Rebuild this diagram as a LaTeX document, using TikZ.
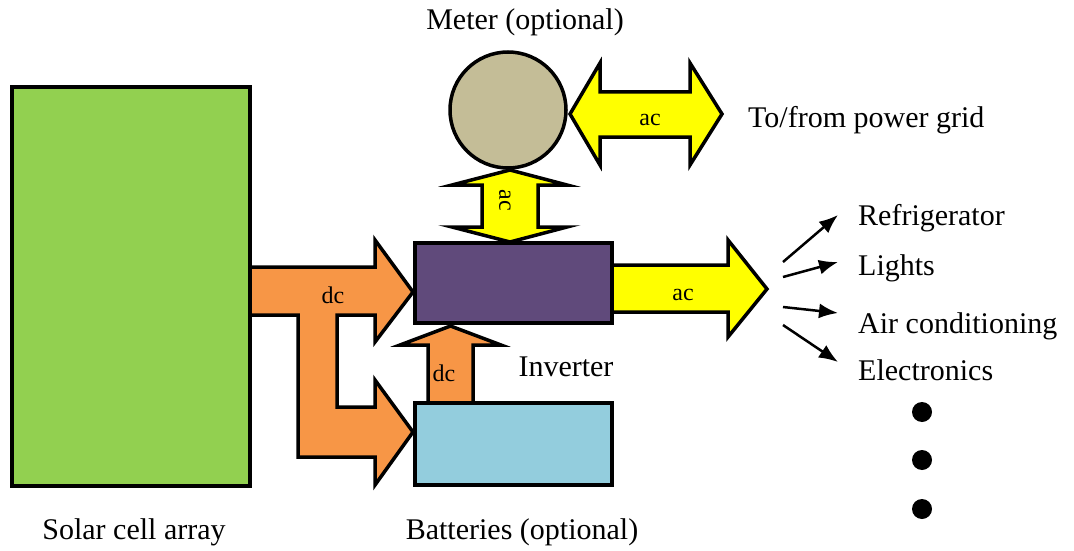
\documentclass[tikz,border=0pt]{standalone}
\usepackage{fontspec}
\setmainfont{Liberation Serif}
\usetikzlibrary{arrows.meta, calc, positioning, backgrounds}
\definecolor{cellgreen}{HTML}{92D050}
\definecolor{invpurple}{HTML}{604A7B}
\definecolor{batblue}{HTML}{93CDDD}
\definecolor{metertan}{HTML}{C4BD97}
\definecolor{dcorange}{HTML}{F79646}
\definecolor{acyellow}{HTML}{FFFF00}

\begin{document}
\begin{tikzpicture}[
    x=1pt, y=-1pt,
    >={Latex[length=19pt,width=15pt]},
    every node/.style={font=\fontsize{30}{36}\selectfont},
    unit/.style ={draw, line width=3.5pt, inner sep=0pt},
    lbl/.style  ={inner sep=0pt},
    tag/.style  ={inner sep=0pt, font=\fontsize{24}{28}\selectfont},
    block/.style={draw, line width=3.5pt, line join=miter},
    acblk/.style={block, fill=acyellow},
    dcblk/.style={block, fill=dcorange},
    load/.style ={->, line width=2.5pt},
]
\useasboundingbox (0,0) rectangle (1074,551);

% --- the units ---
\node[unit, fill=cellgreen, minimum width=238pt, minimum height=399pt] (solar) at (131,286.5) {};
\node[unit, fill=invpurple, minimum width=197pt, minimum height=80pt] (inv) at (513.5,283) {};
\node[unit, fill=batblue, minimum width=197pt, minimum height=82pt, below=76.5pt of inv] (bat) {};
\node[unit, circle, fill=metertan, minimum size=116pt] (meter) at (508,110) {};

\node[lbl] (solarlbl) at (134,532) {Solar cell array};
\node[lbl] (batlbl)   at (522,532) {Batteries (optional)};
\node[lbl] (invlbl)   at (566,367) {Inverter};
\node[lbl] (meterlbl) at (525,22)  {Meter (optional)};
\node[lbl, anchor=west] (gridlbl) at (748,120) {To/from power grid};

% --- loads ---
\node[lbl, anchor=west] (fridge) at (858,218) {Refrigerator};
\node[lbl, anchor=west] (lights) at (858,268) {Lights};
\node[lbl, anchor=west] (aircon) at (858,326) {Air conditioning};
\node[lbl, anchor=west] (elec)   at (858,370) {Electronics};
\coordinate (f1) at (783,262);
\coordinate (f2) at (783,277);
\coordinate (f3) at (783,307);
\coordinate (f4) at (783,325);
\draw[load] (f1) -- (838,215);
\draw[load] (f2) -- (838,262);
\draw[load] (f3) -- (838,313);
\draw[load] (f4) -- (838,362);
\foreach \y in {412,460,509}
  \fill (922,\y) circle[radius=10pt];

% --- block arrows, under the units ---
\begin{scope}[on background layer]
  \draw[dcblk] (250,267) -- (375,267) -- (375,240) -- (413,292) -- (375,342)
    -- (375,315) -- (337,315) -- (337,407) -- (375,407) -- (375,380)
    -- (413,432) -- (375,485) -- (375,457) -- (298,457) -- (298,315)
    -- (250,315) -- cycle;
  \draw[dcblk] (428,405) -- (428,345) -- (400,345) -- (450.5,326)
    -- (501,345) -- (473,345) -- (473,405) -- cycle;
  \draw[acblk] (610,265) -- (728,265) -- (728,240) -- (767,289) -- (728,337)
    -- (728,312) -- (610,312) -- cycle;
  \draw[acblk] (510,170) -- (567,185) -- (538,185) -- (538,227) -- (567,227)
    -- (510,242) -- (452,227) -- (482,227) -- (482,185) -- (452,185) -- cycle;
  \draw[acblk] (570,114) -- (600,63) -- (600,92) -- (690,92) -- (690,63)
    -- (722,114) -- (690,165) -- (690,137) -- (600,137) -- (600,165) -- cycle;
\end{scope}
\node[tag] (dc1) at (333,295) {dc};
\node[tag] (dc2) at (444,373) {dc};
\node[tag] (ac1) at (683,295) {ac};
\node[tag] (ac2) at (650,120) {ac};
\node[tag, rotate=-90] (ac3) at (505,200) {ac};
\end{tikzpicture}
\end{document}
